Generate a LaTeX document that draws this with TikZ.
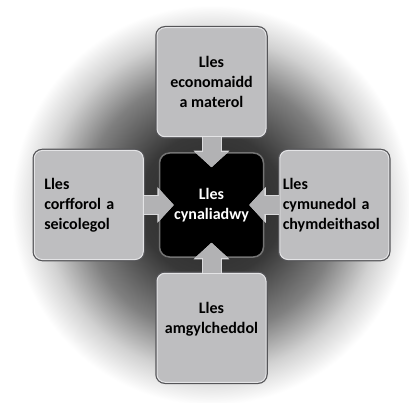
\documentclass[tikz,border=0pt]{standalone}
\usepackage{fontspec}
\setmainfont{Carlito}
\usepackage{xcolor}
\usetikzlibrary{positioning,arrows.meta}

\definecolor{boxgray}{RGB}{190,190,192}
\definecolor{boxrim}{RGB}{85,85,88}
\definecolor{boxhi}{RGB}{228,228,230}
\definecolor{feedgray}{RGB}{178,178,180}
\definecolor{feededge}{RGB}{218,218,220}
\pgfdeclareradialshading{halo}{\pgfpoint{0bp}{0bp}}{color(0bp)=(black!85); color(9bp)=(black!78); color(16bp)=(black!50); color(21bp)=(black!18); color(25bp)=(white); color(50bp)=(white)}

\begin{document}
\begin{tikzpicture}[x=1pt,y=-1pt]
\tikzset{node distance=15pt}
\tikzset{box/.style={rounded corners=8pt,fill=boxgray,draw=boxhi,line width=1pt,minimum width=109pt,minimum height=109pt,inner sep=0pt,font=\bfseries,preaction={draw=boxrim,line width=3.5pt}}}
\tikzset{hub/.style={rounded corners=10pt,fill=black,draw=black!55,line width=1.5pt,minimum size=104pt,inner sep=0pt,text=white,align=center,font=\bfseries}}
\tikzset{feed/.style={draw=feedgray,line width=18pt,shorten >=-15pt,-{Triangle[width=32pt,length=15pt]},preaction={draw=feededge,line width=20pt,-{Triangle[width=35pt,length=16.5pt]}}}}

\fontsize{16}{20}\selectfont

\useasboundingbox (0,0) rectangle (409,403);
\fill[white] (0,0) rectangle (409,403);
\shade[shading=halo] (211.5,205) circle (200);

\node (hub) [hub] at (211.5,205) {Lles\\cynaliadwy};
\node (econ) [box,above=of hub,align=center] {Lles\\economaidd\\a materol};
\node (corff) [box,left=of hub,align=left,text width=89pt] {Lles\\corfforol a\\seicolegol};
\node (cymun) [box,right=of hub,align=left,text width=103pt] {Lles\\cymunedol a\\chymdeithasol};
\node (amgyl) [box,below=of hub,align=center] {Lles\\amgylcheddol\\\mbox{}};

\draw[feed] (econ) -- (hub);
\draw[feed] (corff) -- (hub);
\draw[feed] (cymun) -- (hub);
\draw[feed] (amgyl) -- (hub);

\end{tikzpicture}
\end{document}
